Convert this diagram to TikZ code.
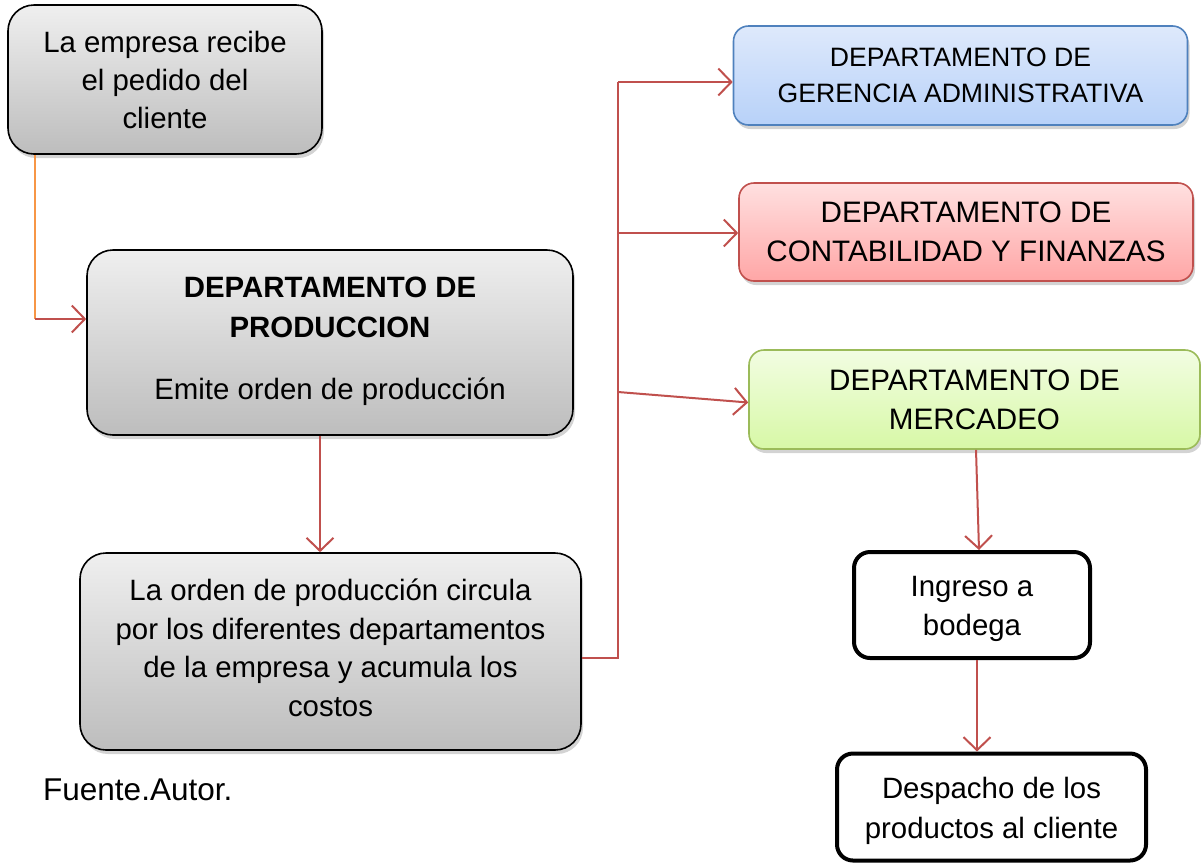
\documentclass[tikz,border=0pt]{standalone}
\usepackage{fontspec}
\setmainfont{Liberation Sans}
\usetikzlibrary{arrows.meta,shadows,calc}
\definecolor{redline}{HTML}{C0504D}
\definecolor{orangeline}{HTML}{F79646}
\definecolor{blueborder}{HTML}{4F81BD}
\definecolor{greenborder}{HTML}{9BBB59}
\definecolor{bluetop}{HTML}{DEE9FB}
\definecolor{bluebot}{HTML}{A7C7F8}
\definecolor{redtop}{HTML}{FFE0E0}
\definecolor{redbot}{HTML}{FFA6A6}
\definecolor{greentop}{HTML}{F2FDE2}
\definecolor{greenbot}{HTML}{D7F8A6}
\definecolor{graytop}{HTML}{EFEFEF}
\definecolor{graybot}{HTML}{BDBDBD}
\tikzset{
  box/.style={rounded corners=26pt, draw=black, line width=1.6pt, inner sep=0pt, align=center,
    top color=graytop, bottom color=graybot,
    drop shadow={opacity=0.35, shadow xshift=2pt, shadow yshift=-4pt},
    font=\fontsize{29.4}{38}\selectfont},
  dept/.style={rounded corners=15pt, line width=1.6pt, inner sep=0pt, align=center,
    drop shadow={opacity=0.35, shadow xshift=2pt, shadow yshift=-4pt},
    font=\fontsize{29.4}{38}\selectfont},
  plain/.style={rounded corners=16pt, draw=black, line width=4pt, fill=white, inner sep=0pt, align=center,
    font=\fontsize{29.4}{39}\selectfont},
  txt/.style={inner sep=0pt, align=center, font=\fontsize{29.4}{39.5}\selectfont},
  conn/.style={draw=redline, line width=2pt, -{Straight Barb[length=13pt,width=27pt,line width=2pt]}},
  connl/.style={draw=redline, line width=2pt},
}
\begin{document}
\begin{tikzpicture}[x=1pt,y=-1pt]
\useasboundingbox (0,0) rectangle (1201,863);

\node[box, minimum width=314pt, minimum height=149pt] (pedido) at (165,79.5)
  {La empresa recibe\\el pedido del\\cliente};
\node[box, minimum width=486pt, minimum height=185pt] (prod) at (330,342.5) {};
\node[inner sep=0pt, align=center, font=\fontsize{29.4}{40}\selectfont\bfseries] (prodt) at (330,307)
  {DEPARTAMENTO DE\\PRODUCCION};
\node[inner sep=0pt, font=\fontsize{29.4}{38}\selectfont] (prode) at (330,392) {Emite orden de producción};
\node[box, minimum width=501pt, minimum height=197pt] (orden) at (330.5,651.5) {};
\node[inner sep=0pt, align=center, font=\fontsize{29.4}{38.5}\selectfont] (ordent) at (330.5,648)
  {La orden de producción circula\\por los diferentes departamentos\\de la empresa y acumula los\\costos};

\node[dept, draw=blueborder, top color=bluetop, bottom color=bluetop!30!bluebot,
  minimum width=454pt, minimum height=99pt, font=\fontsize{26.6}{35.5}\selectfont] (gerencia) at (960.5,75.5)
  {DEPARTAMENTO DE\\GERENCIA ADMINISTRATIVA};
\node[dept, draw=redline, top color=redtop, bottom color=redbot,
  minimum width=454pt, minimum height=98pt, font=\fontsize{29.6}{39}\selectfont] (contab) at (966,232)
  {DEPARTAMENTO DE\\CONTABILIDAD Y FINANZAS};
\node[dept, draw=greenborder, top color=greentop, bottom color=greenbot,
  minimum width=451pt, minimum height=99pt, font=\fontsize{29.6}{39}\selectfont] (merc) at (974.5,399.5)
  {DEPARTAMENTO DE\\MERCADEO};

\node[plain, minimum width=236pt, minimum height=106pt] (ingreso) at (972,605) {};
\node[txt] (ingresot) at (972,609) {Ingreso a\\bodega};
\node[plain, minimum width=309pt, minimum height=107pt] (despacho) at (991.5,807) {};
\node[txt] (despachot) at (991.5,811) {Despacho de los\\productos al cliente};

\node[anchor=west, inner sep=0pt, font=\fontsize{31.5}{36}\selectfont] (fuente) at (43,790) {Fuente.Autor.};

% connectors
\coordinate (c1) at (35,319);
\draw[draw=orangeline, line width=1.6pt] (pedido.south -| c1) -- (c1);
\draw[conn] (c1) -- (c1 -| prod.west);

\draw[conn] ([xshift=-10pt]prod.south) -- ([xshift=-10pt]prod.south |- orden.north);

\coordinate (t0) at (618,658);
\coordinate (tb) at (618,82);
\coordinate (b1) at (618,233);
\coordinate (b2) at (618,392);
\draw[connl] (t0 -| orden.east) -- (t0) -- (tb);
\draw[conn] (tb) -- (tb -| gerencia.west);
\draw[conn] (b1) -- ([yshift=-1pt]contab.west);
\draw[conn] (b2) -- ([yshift=-3pt]merc.west);

\draw[conn] ([xshift=1.5pt]merc.south) -- ([xshift=7pt]ingreso.north);
\draw[conn] ([xshift=5pt]ingreso.south) -- ([xshift=5pt]ingreso.south |- despacho.north);
\end{tikzpicture}
\end{document}
